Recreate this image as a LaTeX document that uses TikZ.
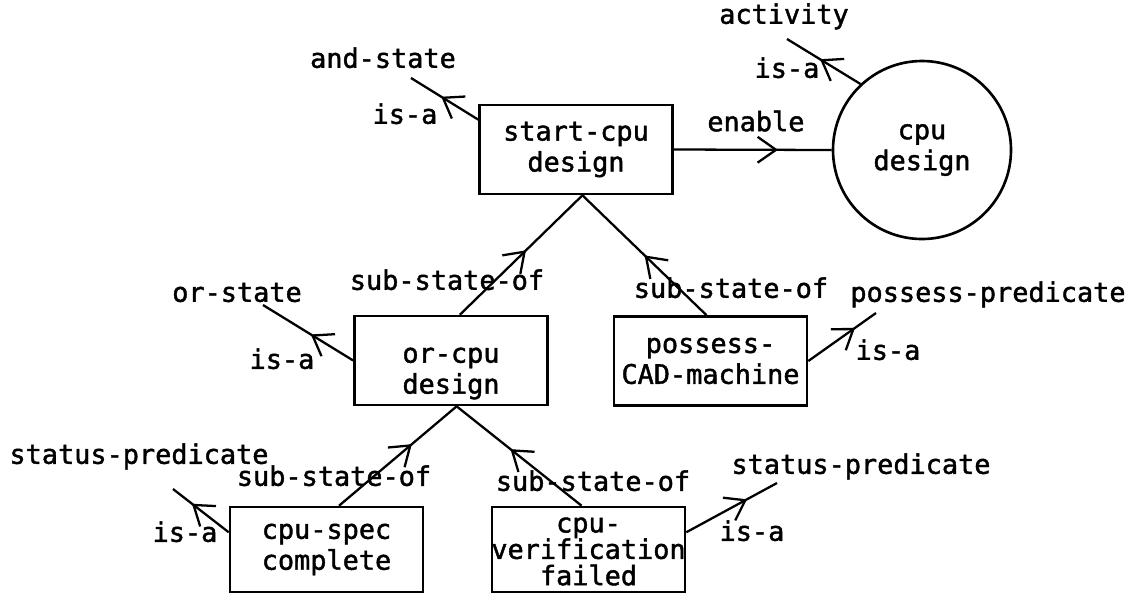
\documentclass[tikz,border=0pt]{standalone}
\usepackage{fontspec}
\setmonofont{DejaVu Sans Mono}[FakeBold=1.5]
\usetikzlibrary{arrows.meta, decorations.markings, positioning}
\tikzset{
    >={Straight Barb[angle=70:0.45cm]},
    link/.style={line width=1.3pt},
    midarrow/.style={link, postaction={decorate, decoration={markings,
        mark=at position #1 with {\arrow{>}}}}},
    state/.style={draw, line width=1.5pt, minimum width=3.86cm, minimum height=1.78cm,
        align=center, inner sep=0pt},
    activitynode/.style={draw, circle, line width=1.5pt, minimum size=3.56cm,
        align=center, inner sep=0pt},
    tag/.style={inner sep=0pt, anchor=mid},
    boxtext/.style={inner sep=0pt, align=center},
}

\begin{document}
\begin{tikzpicture}[font=\fontsize{15.3pt}{17.6pt}\selectfont\ttfamily]
    \useasboundingbox (0,0) rectangle (22.68,-11.88);
    \clip (0,0) rectangle (22.68,-11.88);
    % states and the activity
    \node[state] (startcpu) at (11.52,-2.99) {start-cpu\\design};
    \node[activitynode] (cpudesign) at (18.44,-3.00) {cpu\\design};
    \node[state] (orcpu) at (9.02,-7.21) {};
    \node[boxtext] (orcputext) at (9.02,-7.47) {or-cpu\\design};
    \node[state] (possess) at (14.21,-7.22) {possess-\\CAD-machine};
    \node[state, minimum height=1.70cm] (cpuspec) at (6.53,-10.99) {cpu-spec\\complete};
    \node[state, minimum height=1.70cm] (cpuverif) at (11.77,-10.99) {};
    \node[boxtext, font=\fontsize{15.3pt}{15pt}\selectfont\ttfamily]
        (cpuveriftext) at (11.77,-11.03) {cpu-\\verification\\failed};
    % type labels
    \node[tag] (andstate) at (7.66,-1.28) {and-state};
    \node[tag] (activity) at (15.68,-0.40) {activity};
    \node[tag] (orstate) at (4.74,-5.96) {or-state};
    \node[tag] (possesspred) at (19.76,-5.96) {possess-predicate};
    \node[tag] (statusleft) at (2.78,-9.20) {status-predicate};
    \node[tag] (statusright) at (17.22,-9.40) {status-predicate};
    \foreach \i/\x/\y in {1/8.10/-2.40, 2/15.74/-1.48, 3/5.64/-7.30, 4/17.76/-7.12, 5/3.70/-10.76, 6/15.04/-10.74}
        \node[tag] (isa\i) at (\x,\y) {is-a};
    \foreach \i/\x/\y in {1/8.94/-5.72, 2/14.62/-5.88, 3/6.68/-9.64, 4/11.86/-9.74}
        \node[tag] (sub\i) at (\x,\y) {sub-state-of};
    % free ends of the is-a links
    \coordinate (andstateend) at (8.22,-1.56);
    \coordinate (activityend) at (15.74,-0.78);
    \coordinate (orstateend) at (5.26,-6.10);
    \coordinate (possessend) at (17.52,-6.26);
    \coordinate (statusleftend) at (3.46,-9.78);
    \coordinate (statusrightend) at (15.54,-9.66);
    % links
    \draw[midarrow=0.66] (startcpu.east) -- (cpudesign.west)
        node[inner sep=0pt, pos=0.52, above=0.34cm] (enable) {enable};
    \draw[midarrow=0.55] (startcpu.163) -- (andstateend);
    \draw[midarrow=0.55] (cpudesign.133) -- (activityend);
    \draw[midarrow=0.47] (orcpu.west) -- (orstateend);
    \draw[midarrow=0.69] (possess.east) -- (possessend);
    \draw[midarrow=0.66] (cpuspec.170) -- (statusleftend);
    \draw[midarrow=0.67] (cpuverif.10) -- (statusrightend);
    \draw[midarrow=0.54] (orcpu.79) -- (startcpu.278);
    \draw[midarrow=0.50] (possess.95) -- (startcpu.278);
    \draw[midarrow=0.62] (cpuspec.74) -- (orcpu.277);
    \draw[midarrow=0.57] (cpuverif.99) -- (orcpu.277);
\end{tikzpicture}
\end{document}
